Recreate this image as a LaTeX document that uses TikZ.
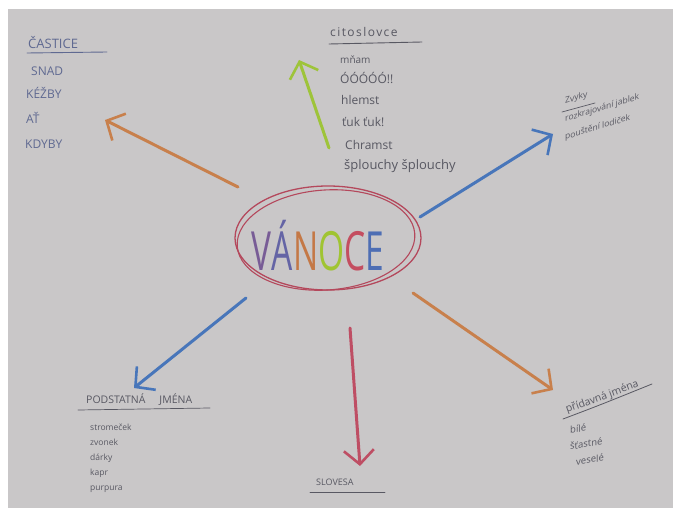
\documentclass[tikz,border=0pt]{standalone}
\usepackage{fontspec}
\setmainfont{Open Sans}
\usetikzlibrary{arrows.meta}
\definecolor{paper}{RGB}{201,199,200}
\definecolor{ink}{RGB}{88,88,98}
\definecolor{blueink}{RGB}{95,105,145}
\definecolor{aorange}{RGB}{200,128,76}
\definecolor{agreen}{RGB}{158,196,58}
\definecolor{ablue}{RGB}{72,118,186}
\definecolor{ared}{RGB}{190,78,100}
\definecolor{ering}{RGB}{180,72,92}
\definecolor{lv}{RGB}{120,92,150}
\definecolor{la}{RGB}{100,100,165}
\definecolor{ln}{RGB}{196,120,70}
\definecolor{lo}{RGB}{160,196,50}
\definecolor{lc}{RGB}{196,78,96}
\definecolor{le}{RGB}{78,110,180}
\tikzset{
  arr/.style={line width=3pt, line cap=round,
    -{Straight Barb[length=14pt,width=30pt,line width=2.6pt]}},
  txt/.style={inner sep=0pt, anchor=base west, text=ink},
  btxt/.style={inner sep=0pt, anchor=base west, text=blueink},
  blocktxt/.style={inner sep=0pt, anchor=north west, align=left, text=ink},
  uline/.style={draw=ink, line width=0.9pt, line cap=round},
}
\newcommand{\fs}[1]{\fontsize{#1}{#1}\selectfont}
\newcommand{\wide}{\addfontfeature{LetterSpace=12}}
\begin{document}
\begin{tikzpicture}[x=1pt,y=-1pt]
\useasboundingbox (0,0) rectangle (673,508);
\fill[white] (0,0) rectangle (673,508);
\fill[paper] (8,9) rectangle (673,508);

% centre
\node[inner sep=0pt, xscale=0.62] (c) at (318,246)
  {\fs{54}\textcolor{lv}{V}\textcolor{la}{Á}\textcolor{ln}{N}\textcolor{lo}{O}\textcolor{lc}{C}\textcolor{le}{E}};
\draw[ering, line width=1.3pt] (328,238) ellipse [x radius=93, y radius=52];
\draw[ering, line width=1.1pt, rotate around={4:(326,240)}] (326,240) ellipse [x radius=89, y radius=50];

% end points
\coordinate (s1) at (238,187); \coordinate (t1) at (105,120);
\coordinate (s2) at (329,148); \coordinate (t2) at (299,60);
\coordinate (s3) at (420,217); \coordinate (t3) at (553,134);
\coordinate (s4) at (413,293); \coordinate (t4) at (553,390);
\coordinate (s5) at (350,328); \coordinate (t5) at (360,466);
\coordinate (s6) at (246,298); \coordinate (t6) at (134,388);

\draw[arr, aorange] (s1) -- (t1);
\draw[arr, agreen] (s2) -- (t2);
\draw[arr, ablue] (s3) -- (t3);
\draw[arr, aorange] (s4) -- (t4);
\draw[arr, ared] (s5) -- (t5);
\draw[arr, ablue] (s6) -- (t6);

% CASTICE
\node[btxt, font=\fs{13}] (h1) at (28,49) {ČASTICE};
\draw[uline, blueink] (27,53) -- (107,52);
\node[btxt, font=\fs{12}] (a1) at (31,76) {SNAD};
\node[btxt, font=\fs{12}] (a2) at (26,99) {KÉŽBY};
\node[btxt, font=\fs{12}] (a3) at (26,124) {AŤ};
\node[btxt, font=\fs{12}] (a4) at (25,149) {KDYBY};

% citoslovce
\node[txt, font=\fs{12}\wide] (h2) at (330,37) {citoslovce};
\draw[uline] (329,44) -- (422,42);
\node[txt, font=\fs{10}] (b1) at (340,64) {mňam};
\node[txt, font=\fs{12}] (b2) at (340,84) {ÓÓÓÓÓ!!};
\node[txt, font=\fs{12}] (b3) at (341,105) {hlemst};
\node[txt, font=\fs{12}] (b4) at (342,127) {ťuk ťuk!};
\node[txt, font=\fs{12}] (b5) at (345,150) {Chramst};
\node[txt, font=\fs{13}] (b6) at (344,170) {šplouchy šplouchy};

% Zvyky
\node[blocktxt, yslant=0.3, font=\fontsize{8.5}{18}\selectfont] (zv) at (565,97)
  {Zvyky\\rozkrajování jablek\\pouštění lodiček};
\draw[uline, line width=0.7pt] (562,112) -- (595,103);

% podstatna jmena
\node[txt, font=\fs{10.5}] (h4) at (86,403) {PODSTATNÁ\hspace{14pt}JMÉNA};
\draw[uline, line width=0.7pt] (78,410) -- (210,408);
\node[blocktxt, font=\fontsize{8.5}{15}\selectfont] (pj) at (90,424)
  {stromeček\\zvonek\\dárky\\kapr\\purpura};

% pridavna jmena
\node[txt, font=\fs{10.5}, rotate=20] (h5) at (567,413) {přídavná jména};
\draw[uline, line width=0.8pt] (563,419) .. controls (600,405) .. (652,384);
\node[blocktxt, yslant=0.17, font=\fontsize{9.5}{16.5}\selectfont] (pr) at (570,426)
  {bílé\\šťastné\\\hspace{6pt}veselé};

% slovesa
\node[txt, font=\fs{9}] (h6) at (316,485) {SLOVESA};
\draw[uline, line width=0.8pt] (310,492) -- (385,492);
\end{tikzpicture}
\end{document}
